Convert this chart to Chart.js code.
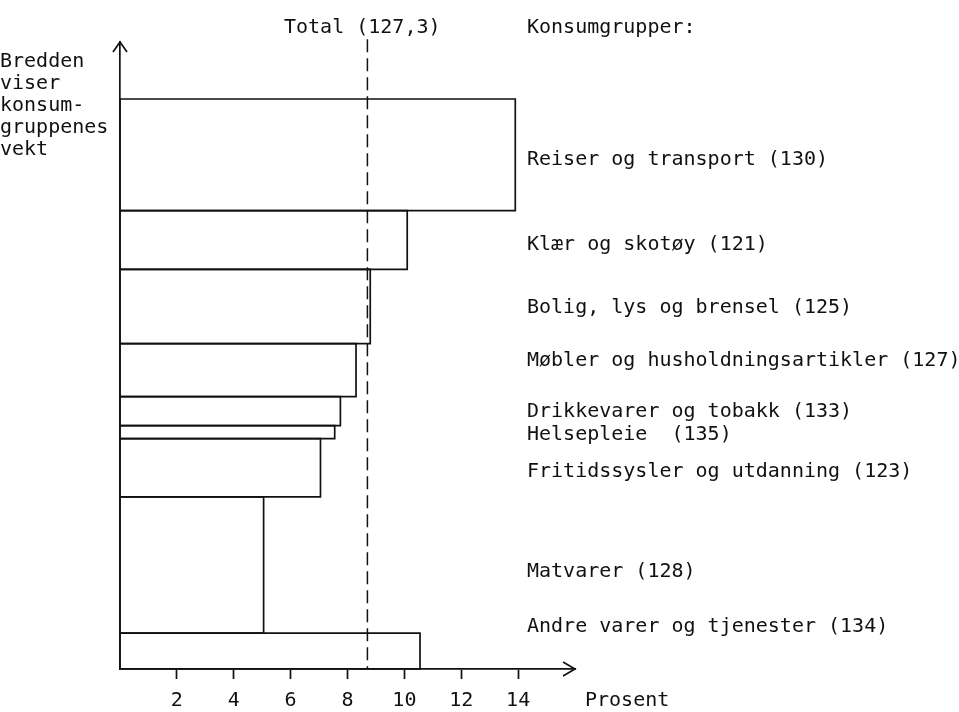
<!DOCTYPE html>
<html>
<head>
<meta charset="utf-8">
<script src="https://cdn.jsdelivr.net/npm/chart.js@4"></script>
<style>
  body { margin: 0; background: #fff; }
</style>
</head>
<body>
<canvas id="myChart" width="959" height="712"></canvas>
<script>
"use strict"

// konsumgrupper, prosent stigning og vekt (bredde) lest av figuren
const categories = [
  'Reiser og transport (130)',
  'Klær og skotøy (121)',
  'Bolig, lys og brensel (125)',
  'Møbler og husholdningsartikler (127)',
  'Drikkevarer og tobakk (133)',
  'Helsepleie  (135)',
  'Fritidssysler og utdanning (123)',
  'Matvarer (128)',
  'Andre varer og tjenester (134)'
]
const prosent = [13.9, 10.1, 8.8, 8.3, 7.75, 7.55, 7.05, 5.05, 10.55]
const vekt = [19.6, 10.3, 13.0, 9.3, 5.1, 2.3, 10.2, 23.9, 6.3]
const total = 8.7
const totalLabel = 'Total (127,3)'
const xTicks = [2, 4, 6, 8, 10, 12, 14]

// pixel y for the text next to each group
const labelY = [160, 245, 308, 361, 412, 435, 472, 572, 627]

const FONT = "'DejaVu Sans Mono', monospace"

// one outlined rectangle per group, stacked from the top
let datasets = []
let yTop = 100
for (let i = 0; i < categories.length; i++) {
  let yBottom = yTop - vekt[i]
  datasets.push({
    label: categories[i],
    data: [
      {x: 0, y: yTop}, {x: prosent[i], y: yTop},
      {x: prosent[i], y: yBottom}, {x: 0, y: yBottom}, {x: 0, y: yTop}
    ],
    borderColor: '#111',
    borderWidth: 1.7,
    pointRadius: 0,
    fill: false,
    tension: 0,
    clip: false
  })
  yTop = yBottom
}
datasets.push({
  label: 'Total',
  data: [{x: total, y: 110.5}, {x: total, y: 0}],
  borderColor: '#111',
  borderWidth: 1.5,
  borderDash: [13, 6],
  pointRadius: 0,
  fill: false,
  clip: false
})

const textPlugin = {
  id: 'texts',
  afterDraw(chart) {
    const ctx = chart.ctx
    const area = chart.chartArea
    ctx.save()
    ctx.strokeStyle = '#111'
    ctx.lineWidth = 1.7
    // arrow heads
    ctx.beginPath()
    ctx.moveTo(area.left - 7, area.top + 10)
    ctx.lineTo(area.left, area.top)
    ctx.lineTo(area.left + 7, area.top + 10)
    ctx.moveTo(area.right - 12, area.bottom - 7)
    ctx.lineTo(area.right, area.bottom)
    ctx.lineTo(area.right - 12, area.bottom + 7)
    ctx.stroke()

    ctx.fillStyle = '#111'
    ctx.font = '20px ' + FONT
    ctx.textBaseline = 'middle'
    ctx.textAlign = 'left'
    ctx.fillText(totalLabel, 284, 28)
    ctx.fillText('Konsumgrupper:', 527, 28)
    for (let i = 0; i < categories.length; i++) {
      ctx.fillText(categories[i], 527, labelY[i])
    }
    ctx.fillText('Prosent', 585, 701)
    const left = ['Bredden', 'viser', 'konsum-', 'gruppenes', 'vekt']
    for (let i = 0; i < left.length; i++) {
      ctx.fillText(left[i], 0, 62 + i * 22)
    }
    ctx.restore()
  }
}

let myChart = document.getElementById('myChart').getContext('2d')
let chart = new Chart(myChart, {
  type: 'line',
  data: { datasets: datasets },
  options: {
    responsive: false,
    animation: false,
    layout: { padding: { left: 112, right: 384, top: 42, bottom: 0 } },
    plugins: { legend: { display: false }, tooltip: { enabled: false } },
    scales: {
      x: {
        type: 'linear',
        min: 0,
        max: 16,
        afterBuildTicks: scale => {
          scale.ticks = [0].concat(xTicks).map(v => ({value: v}))
        },
        afterFit: scale => { scale.height = 43 },
        ticks: {
          color: '#111',
          font: { family: FONT, size: 20 },
          padding: 10,
          callback: v => v === 0 ? '' : v
        },
        grid: {
          drawOnChartArea: false,
          tickLength: 10,
          tickWidth: 1.7,
          tickColor: c => (c.tick && c.tick.value === 0) ? 'rgba(0,0,0,0)' : '#111'
        },
        border: { color: '#111', width: 1.7 }
      },
      y: {
        type: 'linear',
        min: 0,
        max: 110,
        ticks: { display: false },
        grid: { display: false },
        border: { color: '#111', width: 1.7 }
      }
    }
  },
  plugins: [textPlugin]
})
</script>
</body>
</html>
